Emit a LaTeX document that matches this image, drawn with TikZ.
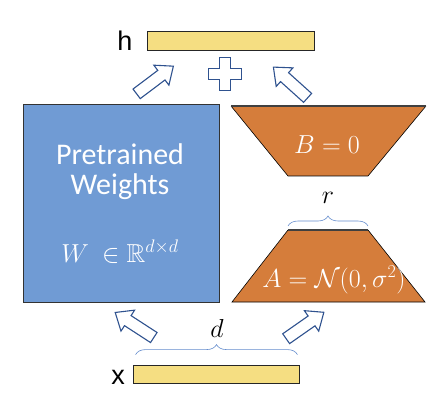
\documentclass[tikz,border=0pt]{standalone}
\usepackage{fix-cm}
\usepackage{amssymb}
\usepackage{fontspec}
\setmainfont{Carlito}
\newfontfamily\labelfont{Liberation Sans}
\usetikzlibrary{decorations.pathreplacing}

\definecolor{wblue}{RGB}{112,155,212}
\definecolor{lorange}{RGB}{213,125,59}
\definecolor{vyellow}{RGB}{245,222,130}
\definecolor{arrowblue}{RGB}{47,82,143}
\definecolor{braceblue}{RGB}{100,140,205}

\tikzset{
  vecbar/.style={draw=black!85, fill=vyellow, line width=0.8pt, inner sep=0pt},
  flowarrow/.style={draw=arrowblue, fill=white, line width=1.1pt, line join=miter},
  dimbrace/.style={draw=braceblue, line width=0.6pt, decorate, decoration={brace, amplitude=10pt}},
  mathlbl/.style={text=white, font=\fontsize{26}{30}\selectfont, anchor=base},
}

% hollow block arrow: centre, angle
\newcommand{\hollowarrow}[2]{%
  \begin{scope}[shift={#1}, rotate=#2]
    \draw[flowarrow] (-23,-6) -- (8,-6) -- (8,-12.5) -- (23,0) -- (8,12.5) -- (8,6) -- (-23,6) -- cycle;
  \end{scope}}

\begin{document}
\begin{tikzpicture}[x=1pt, y=-1pt]
  \useasboundingbox (0,0) rectangle (444,406);

  % input and output vectors
  \node[vecbar, minimum width=167pt, minimum height=19pt] (hout) at (230.5,40.5) {};
  \node[vecbar, minimum width=166pt, minimum height=18pt] (xin) at (216,374) {};
  \node[font=\labelfont\fontsize{27}{30}\selectfont, anchor=base] (hlbl) at (125,51) {h};
  \node[font=\labelfont\fontsize{27}{30}\selectfont, anchor=base] (xlbl) at (118,384) {x};

  % pretrained weights
  \node[draw=black!80, fill=wblue, line width=1pt, minimum width=196pt, minimum height=197pt] (wbox) at (121,203.5) {};
  \node[text=white, font=\fontsize{30}{34}\selectfont, anchor=base] (wtxt1) at (120,165) {Pretrained};
  \node[text=white, font=\fontsize{30}{34}\selectfont, anchor=base] (wtxt2) at (120,194) {Weights};
  \node[mathlbl] (wtxt3) at (120,262) {$W\ \in\mathbb{R}^{d\times d}$};

  % B and A
  \fill[lorange] (231,106) -- (426,106) -- (368,176) -- (288,176) -- cycle;
  \draw[black, line width=0.6pt] (231,106) -- (288,176) -- (368,176) -- (426,106);
  \draw[black!75, line width=1.4pt] (231,106) -- (426,106);
  \node[mathlbl] (btxt) at (327,154) {$B=0$};

  \coordinate (atl) at (288,230);
  \coordinate (atr) at (368,230);
  \fill[lorange] (atl) -- (atr) -- (425,302) -- (232,302) -- cycle;
  \draw[black, line width=0.6pt] (atr) -- (425,302) -- (232,302) -- (atl);
  \draw[black!75, line width=1.4pt] (atl) -- (atr);
  \node[mathlbl] (atxt) at (334,287) {$A=\mathcal{N}(0,\sigma^2)$};

  % dimensions
  \draw[dimbrace] ([yshift=4pt]atl) -- ([yshift=4pt]atr);
  \node[font=\fontsize{26}{30}\selectfont] (rlbl) at (328,198) {$r$};
  \draw[dimbrace] ([xshift=3pt,yshift=10pt]xin.north west) -- ([xshift=-2pt,yshift=10pt]xin.north east);
  \node[font=\fontsize{26}{30}\selectfont, anchor=base] (dlbl) at (217,337) {$d$};

  % flow
  \hollowarrow{(134.5,325)}{147}
  \hollowarrow{(305,325.5)}{35}
  \hollowarrow{(155,80)}{37}
  \hollowarrow{(290.5,82.5)}{138}

  % plus
  \begin{scope}[shift={(225,74)}]
    \draw[flowarrow] (-5.5,-16.5) -- (5.5,-16.5) -- (5.5,-5.5) -- (16.5,-5.5) -- (16.5,5.5) -- (5.5,5.5) -- (5.5,16.5)
      -- (-5.5,16.5) -- (-5.5,5.5) -- (-16.5,5.5) -- (-16.5,-5.5) -- (-5.5,-5.5) -- cycle;
  \end{scope}

\end{tikzpicture}
\end{document}
